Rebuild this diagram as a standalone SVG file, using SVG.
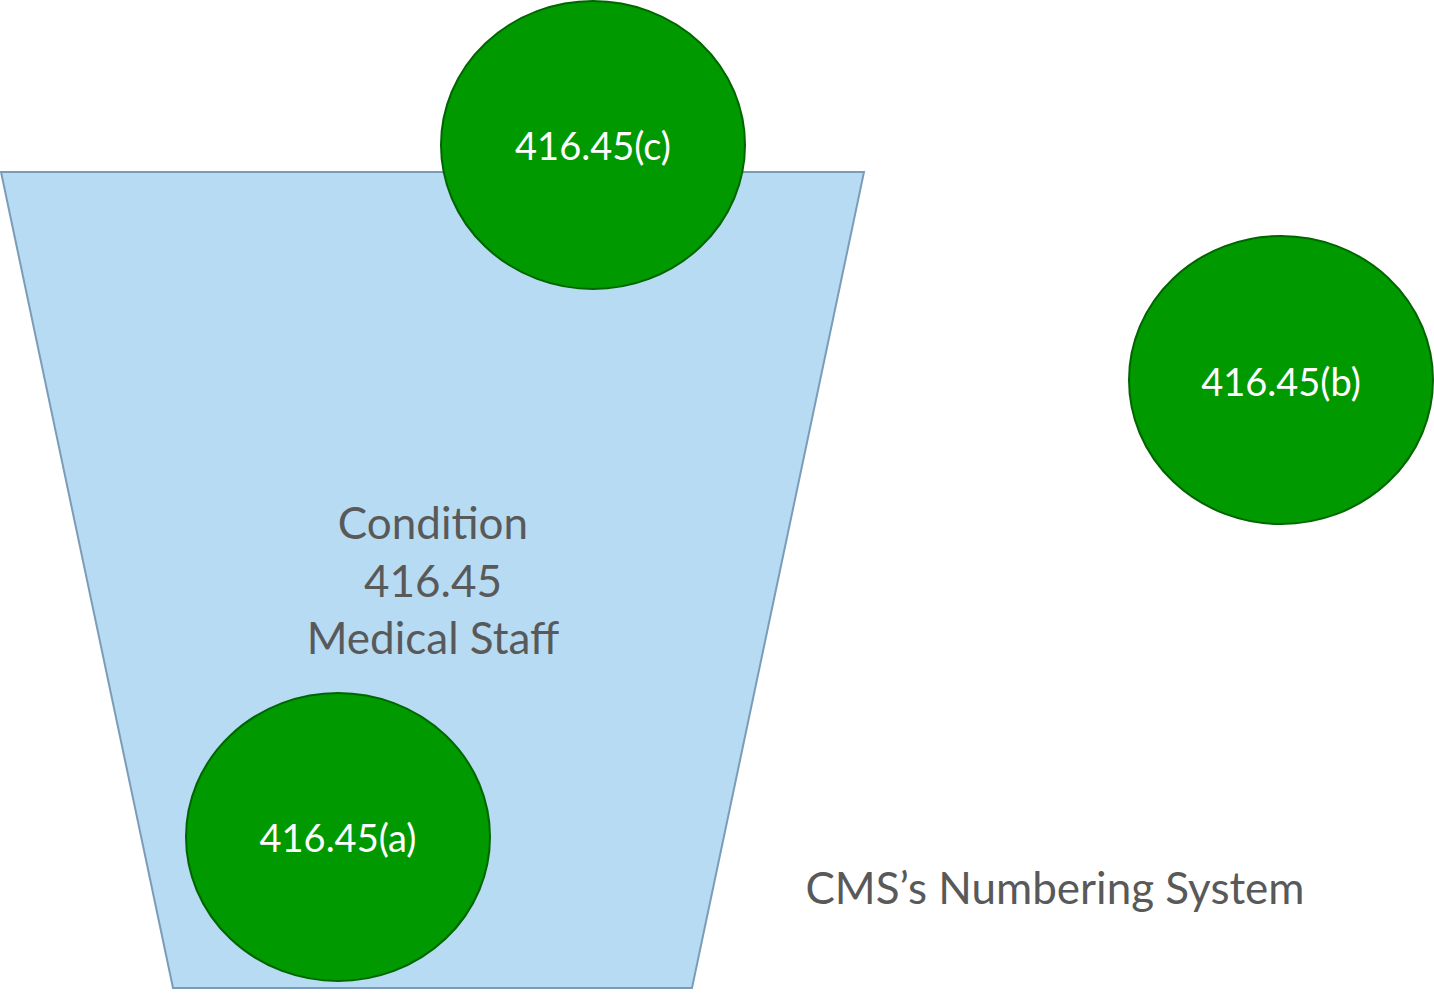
<svg xmlns="http://www.w3.org/2000/svg" width="1434" height="994" viewBox="0 0 1434 994">
<style>
.node{fill:#009900;stroke:#006600;stroke-width:2}
.lbl{font-family:Lato,"Open Sans",sans-serif;font-size:38px;fill:#ffffff;text-anchor:middle}
.gray{font-family:Lato,"Open Sans",sans-serif;font-size:44px;fill:#595959;text-anchor:middle}
</style>
<rect width="1434" height="994" fill="#ffffff"/>
<g id="container">
<polygon points="1,172 864,172 692,988 173,988" fill="#b7dbf2" stroke="#7b9cb8" stroke-width="2"/>
<text class="gray" x="433" y="539">Condition</text>
<text class="gray" x="433" y="597">416.45</text>
<text class="gray" x="433" y="654">Medical Staff</text>
</g>
<g id="connectors"></g>
<g id="node-c">
<ellipse class="node" cx="593" cy="145" rx="152" ry="144"/>
<text class="lbl" x="593" y="160">416.45(c)</text>
</g>
<g id="node-b">
<ellipse class="node" cx="1281" cy="380" rx="152" ry="144"/>
<text class="lbl" x="1281" y="396">416.45(b)</text>
</g>
<g id="node-a">
<ellipse class="node" cx="338" cy="837" rx="152" ry="144"/>
<text class="lbl" x="338" y="852">416.45(a)</text>
</g>
<g id="caption">
<text class="gray" x="1055" y="904">CMS’s Numbering System</text>
</g>
</svg>
